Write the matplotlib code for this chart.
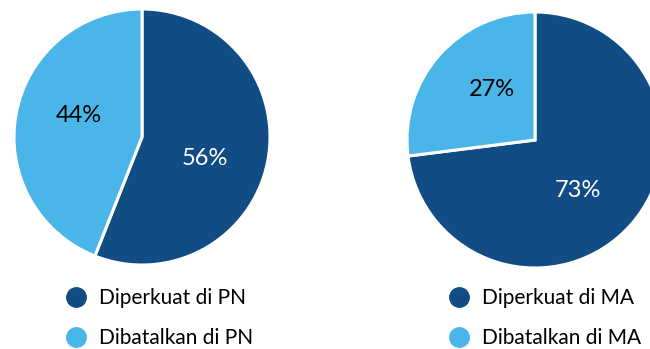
import matplotlib
matplotlib.use("Agg")
import numpy as np
import matplotlib.pyplot as plt
from matplotlib.lines import Line2D

plt.rcParams['font.family'] = ['Lato', 'DejaVu Sans']

# data
labels_pn = ['Diperkuat di PN', 'Dibatalkan di PN']
values_pn = [56, 44]
labels_ma = ['Diperkuat di MA', 'Dibatalkan di MA']
values_ma = [73, 27]

warna = ['#124C84', '#4AB5E9']
warna_teks = ['white', 'black']

W, H = 650, 349
fig = plt.figure(figsize=(6.5, 3.49), dpi=100)


def gambar_pie(x0, y0, r, values, labels, leg_x):
    # x0, y0 = pusat pie in pixel (dari atas)
    ax = fig.add_axes([(x0 - r) / W, (H - y0 - r) / H, 2 * r / W, 2 * r / H])
    wedges, texts, autotexts = ax.pie(
        values, colors=warna, startangle=90, counterclock=False,
        autopct='%d%%', pctdistance=0.52,
        wedgeprops=dict(edgecolor='white', linewidth=2.2),
        textprops=dict(fontsize=17))
    # label sedikit diputar searah jarum jam, seperti di gambar asli
    rot = np.deg2rad(-8)
    for t, c in zip(autotexts, warna_teks):
        t.set_color(c)
        x, y = t.get_position()
        t.set_position((x * np.cos(rot) - y * np.sin(rot),
                        x * np.sin(rot) + y * np.cos(rot)))
    ax.set_aspect('equal')
    ax.set_xlim(-1, 1)
    ax.set_ylim(-1, 1)

    handles = [Line2D([0], [0], marker='o', linestyle='none', markersize=14,
                      markerfacecolor=c, markeredgecolor=c) for c in warna]
    fig.legend(handles, labels, loc='center left', frameon=False,
               bbox_to_anchor=(leg_x / W, 1 - 318 / H), fontsize=15,
               handlelength=1.0, handletextpad=0.6, labelspacing=0.95,
               borderpad=0, borderaxespad=0)


gambar_pie(142, 137, 128, values_pn, labels_pn, 66)
gambar_pie(535, 140, 128, values_ma, labels_ma, 449)

fig.savefig('out.png', dpi=100)
